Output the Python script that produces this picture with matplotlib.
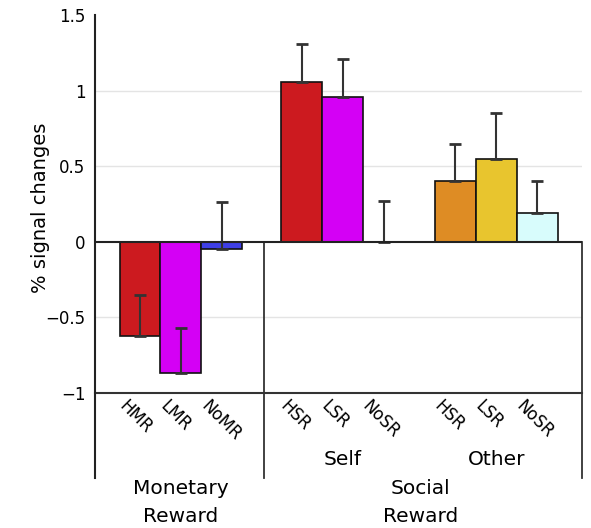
import matplotlib.pyplot as plt

# bar data
labels = ["HMR", "LMR", "NoMR", "HSR", "LSR", "NoSR", "HSR", "LSR", "NoSR"]
values = [-0.62, -0.87, -0.05, 1.06, 0.96, 0.0, 0.40, 0.55, 0.19]
errors = [0.27, 0.30, 0.31, 0.25, 0.25, 0.27, 0.25, 0.30, 0.21]
colors = ["#cc1a1f", "#d400f5", "#3f3fe6", "#cc1a1f", "#d400f5", "#ffffff",
          "#de8c24", "#e8c52e", "#d8fcfc"]
positions = [1.1, 2.1, 3.1, 5.05, 6.05, 7.05, 8.8, 9.8, 10.8]

fig = plt.figure(figsize=(5.91, 5.28), dpi=100)
ax = fig.add_axes([0.1607, 0.2557, 0.8243, 0.7159])

ax.set_xlim(0, 11.9)
ax.set_ylim(-1, 1.5)

# light grid lines
for g in [-0.5, 0.5, 1.0]:
    ax.axhline(g, color="#e4e4e4", lw=1, zorder=0)

bars = ax.bar(positions, values, width=1.0, color=colors, edgecolor="#111111",
              linewidth=1.2, zorder=2)
bars[5].set_visible(False)

ax.errorbar(positions, values, yerr=[[0] * len(errors), errors], fmt="none",
            ecolor="#333333", elinewidth=1.5, capsize=4.5, capthick=2, zorder=3)

ax.axhline(0, color="#222222", lw=1.5, zorder=4)

for s in ax.spines.values():
    s.set_visible(False)

# frame lines, some reach below the axes
ax.plot([0, 11.9], [-1, -1], color="#333333", lw=1.5, clip_on=False)
ax.plot([0, 0], [1.5, -1.56], color="#222222", lw=1.5, clip_on=False)
ax.plot([4.12, 4.12], [0, -1.56], color="#333333", lw=1.3, clip_on=False)
ax.plot([11.9, 11.9], [0, -1.56], color="#333333", lw=1.3, clip_on=False)

ax.set_xticks([])
ax.set_yticks([-1, -0.5, 0, 0.5, 1, 1.5])
ax.set_yticklabels(["\u22121", "\u22120.5", "0", "0.5", "1", "1.5"])
ax.tick_params(axis="y", length=0, pad=7, labelsize=12)
ax.set_ylabel("% signal changes", fontsize=14)
ax.yaxis.set_label_coords(-0.092, 0.49)

for p, lab in zip(positions, labels):
    ax.text(p - 0.45, -1.07, lab, rotation=-45, rotation_mode="anchor",
            ha="left", va="center", fontsize=12, clip_on=False)

ax.text(6.05, -1.44, "Self", ha="center", va="center", fontsize=14.5)
ax.text(9.8, -1.44, "Other", ha="center", va="center", fontsize=14.5)
ax.text(2.1, -1.63, "Monetary", ha="center", va="center", fontsize=14.5)
ax.text(2.1, -1.82, "Reward", ha="center", va="center", fontsize=14.5)
ax.text(7.95, -1.63, "Social", ha="center", va="center", fontsize=14.5)
ax.text(7.95, -1.82, "Reward", ha="center", va="center", fontsize=14.5)

fig.savefig("out.png", dpi=100)
